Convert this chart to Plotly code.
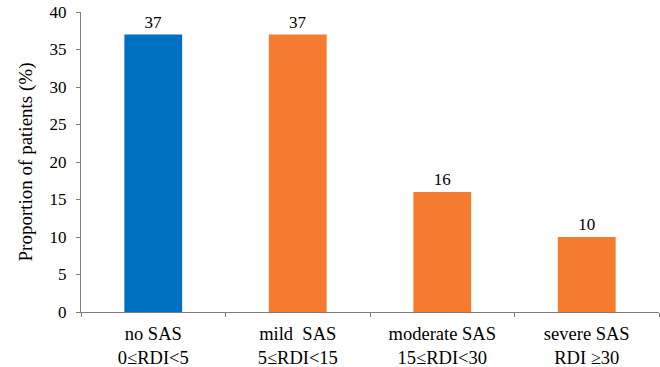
import plotly.graph_objects as go

categories = ["no SAS<br>0≤RDI<5", "mild  SAS<br>5≤RDI<15", "moderate SAS<br>15≤RDI<30", "severe SAS<br>RDI ≥30"]
values = [37, 37, 16, 10]
colors = ["#0070C0", "#F57B30", "#F57B30", "#F57B30"]
y_ticks = [0, 5, 10, 15, 20, 25, 30, 35, 40]

font = "Liberation Serif, Times New Roman, serif"

fig = go.Figure(go.Bar(
    x=categories, y=values,
    marker=dict(color=colors, line=dict(width=0)),
    width=0.4,
    text=[str(v) for v in values],
    textposition="outside",
    textfont=dict(family=font, size=17, color="#000"),
    cliponaxis=False,
))

fig.update_layout(
    width=660, height=367,
    margin=dict(l=81, r=1, t=12, b=55),
    plot_bgcolor="white", paper_bgcolor="white",
    showlegend=False,
    font=dict(family=font, color="#000"),
)
fig.update_xaxes(
    showline=True, linecolor="#7f7f7f", linewidth=1,
    ticks="outside", tickson="boundaries", ticklen=4, tickcolor="#7f7f7f",
    tickfont=dict(family=font, size=18.5, color="#000"),
    ticklabelstandoff=5,
    showgrid=False, automargin=False,
)
fig.update_yaxes(
    range=[0, 40], tickvals=y_ticks,
    showline=True, linecolor="#7f7f7f", linewidth=1,
    ticks="outside", ticklen=4, tickcolor="#7f7f7f",
    tickfont=dict(family=font, size=17, color="#000"),
    ticklabelstandoff=6,
    showgrid=False, zeroline=False, automargin=False,
    title=dict(text="Proportion of patients (%)", font=dict(family=font, size=19, color="#000"), standoff=11),
)

fig.write_html("out.html")
